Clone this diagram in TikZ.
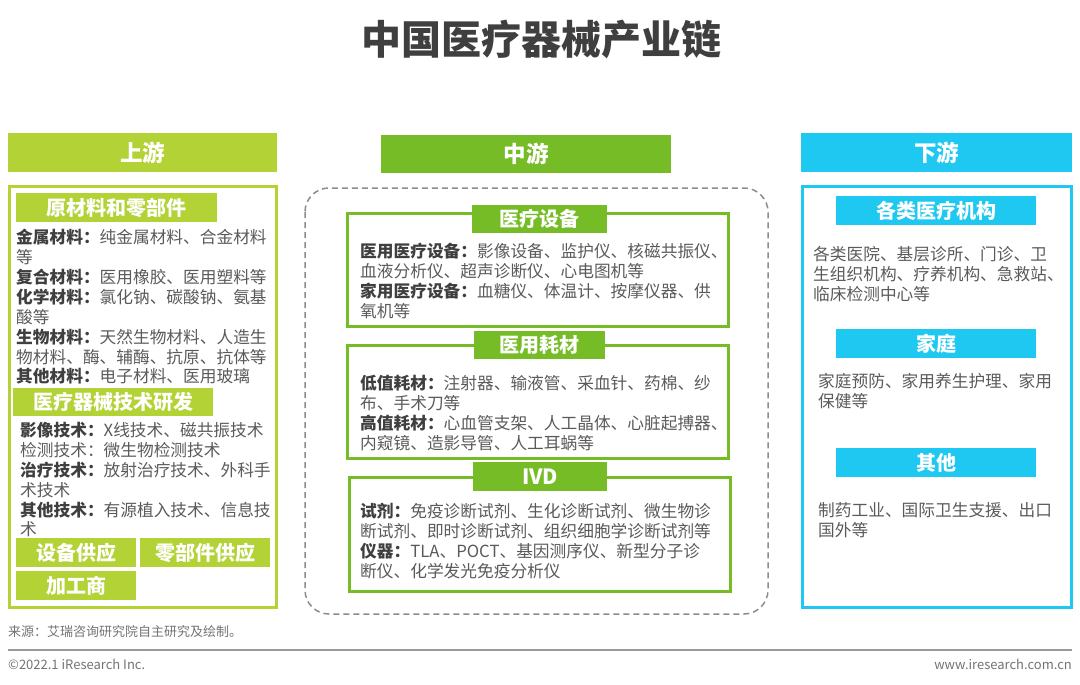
\documentclass[tikz,border=0pt]{standalone}
\usepackage{fontspec}
\setmainfont{Noto Sans CJK SC}
\definecolor{upc}{HTML}{B2D235}
\definecolor{midc}{HTML}{76BC27}
\definecolor{downc}{HTML}{1FC8F0}
\definecolor{bodytxt}{HTML}{5A5A5A}
\definecolor{darktxt}{HTML}{3F3F3F}
\definecolor{dashc}{HTML}{8C8C8C}
\newcommand{\bt}[1]{{\color{darktxt}\bfseries #1}}

\begin{document}
\begin{tikzpicture}[x=1pt,y=-1pt,
 lab/.style={fill=#1,text=white,inner sep=0,anchor=north west,font=\fontsize{20}{23}\selectfont\bfseries},
 bigh/.style={lab=#1,font=\fontsize{22.5}{26}\selectfont\bfseries},
 body/.style={anchor=north west,align=left,inner sep=0,text=bodytxt,font=\fontsize{16.7}{19.9}\selectfont,execute at begin node={\rule{0pt}{15pt}}},
 foot/.style={inner sep=0,text=bodytxt!85,font=\fontsize{13}{15}\selectfont}]
\useasboundingbox (0,0) rectangle (1080,685);
\node[anchor=base,inner sep=0,text=darktxt,font=\fontsize{40}{46}\selectfont\bfseries] (title) at (541,55) {中国医疗器械产业链};
% headers
\node[bigh=upc,minimum width=269,minimum height=39] (hup) at (8,133) {上游};
\node[bigh=midc,minimum width=290,minimum height=38] (hmid) at (381,135) {中游};
\node[bigh=downc,minimum width=271,minimum height=39] (hdown) at (801,133) {下游};
% upstream
\draw[upc,line width=3] (9,186) rectangle (276,607);
\node[lab=upc,minimum width=201,minimum height=29] (lraw) at (16,193) {原材料和零部件};
\node[body] (traw) at (16,229) {\bt{金属材料：}纯金属材料、合金材料\\等\\\bt{复合材料：}医用橡胶、医用塑料等\\\bt{化学材料：}氯化钠、碳酸钠、氨基\\酸等\\\bt{生物材料：}天然生物材料、人造生\\物材料、酶、辅酶、抗原、抗体等\\\bt{其他材料：}电子材料、医用玻璃};
\node[lab=upc,minimum width=200,minimum height=28] (ltech) at (13,388) {医疗器械技术研发};
\node[body] (ttech) at (20,422) {\bt{影像技术：}X线技术、磁共振技术\\检测技术：微生物检测技术\\\bt{治疗技术：}放射治疗技术、外科手\\术技术\\\bt{其他技术：}有源植入技术、信息技\\术};
\node[lab=upc,minimum width=120,minimum height=29] (ldev) at (16,538) {设备供应};
\node[lab=upc,minimum width=130,minimum height=29] (lpart) at (140,538) {零部件供应};
\node[lab=upc,minimum width=120,minimum height=29] (lproc) at (16,571) {加工商};
% midstream
\draw[dashc,line width=1.5,dash pattern=on 6pt off 4pt,rounded corners=24] (305,188) rectangle (768,614);
\draw[midc,line width=3] (347,213) rectangle (728,326);
\node[lab=midc,minimum width=135,minimum height=28] (lequip) at (472,205) {医疗设备};
\node[body] (tequip) at (360,243) {\bt{医用医疗设备：}影像设备、监护仪、核磁共振仪、\\血液分析仪、超声诊断仪、心电图机等\\\bt{家用医疗设备：}血糖仪、体温计、按摩仪器、供\\氧机等};
\draw[midc,line width=3] (347,345) rectangle (728,458);
\node[lab=midc,minimum width=131,minimum height=28] (lcons) at (474,331) {医用耗材};
\node[body] (tcons) at (360,375) {\bt{低值耗材：}注射器、输液管、采血针、药棉、纱\\布、手术刀等\\\bt{高值耗材：}心血管支架、人工晶体、心脏起搏器、\\内窥镜、造影导管、人工耳蜗等};
\draw[midc,line width=3] (349,477) rectangle (730,591);
\node[lab=midc,minimum width=134,minimum height=29,font=\fontsize{21}{24}\selectfont\bfseries] (livd) at (473,462) {IVD};
\node[body] (tivd) at (360,503) {\bt{试剂：}免疫诊断试剂、生化诊断试剂、微生物诊\\断试剂、即时诊断试剂、组织细胞学诊断试剂等\\\bt{仪器：}TLA、POCT、基因测序仪、新型分子诊\\断仪、化学发光免疫分析仪};
% downstream
\draw[downc,line width=3] (802,186) rectangle (1071,607);
\node[lab=downc,minimum width=200,minimum height=29] (lhosp) at (836,196) {各类医疗机构};
\node[body] (thosp) at (813,246) {各类医院、基层诊所、门诊、卫\\生组织机构、疗养机构、急救站、\\临床检测中心等};
\node[lab=downc,minimum width=200,minimum height=29] (lhome) at (836,329) {家庭};
\node[body] (thome) at (818,373) {家庭预防、家用养生护理、家用\\保健等};
\node[lab=downc,minimum width=200,minimum height=29] (lother) at (836,448) {其他};
\node[body] (tother) at (818,502) {制药工业、国际卫生支援、出口\\国外等};
% footer
\node[foot,anchor=base west] (src) at (8,636) {来源：艾瑞咨询研究院自主研究及绘制。};
\draw[black!40,line width=1.2] (8,650) -- (1072,650);
\node[foot,anchor=base west] (copy) at (8,669) {©2022.1 iResearch Inc.};
\node[foot,anchor=base east] (web) at (1072,669) {www.iresearch.com.cn};
\end{tikzpicture}
\end{document}
